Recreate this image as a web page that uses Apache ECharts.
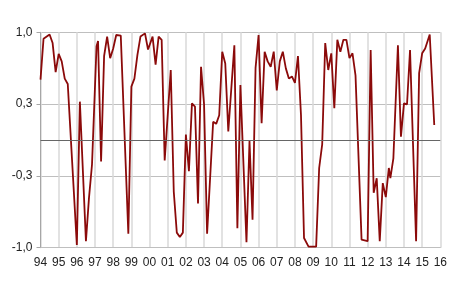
<!DOCTYPE html>
<html>
<head>
<meta charset="utf-8">
<script src="https://cdn.jsdelivr.net/npm/echarts@6/dist/echarts.min.js"></script>
<style>html,body{margin:0;padding:0;background:#fff;}#c{width:450px;height:291px;}</style>
</head>
<body>
<div id="c"></div>
<script>
// months since January 1994
const months = [0,2,6,8,10,12,14,16,18,24,26,30,32,34,37,38,40,42,44,46,48,50,53,58,60,62,64,66,69,71,74,76,78,80,82,86,88,90,92,94,96,98,100,102,104,106,108,110,114,116,118,120,122,124,128,130,132,136,138,140,142,144,146,148,150,152,154,156,158,160,162,164,166,168,170,172,174,177,182,184,186,188,190,192,194,196,198,200,202,204,206,208,212,216,218,220,222,224,226,228,230,231,233,236,238,240,242,244,248,250,252,254,257,260];
const values = [0.56,0.94,0.98,0.90,0.63,0.80,0.73,0.57,0.52,-0.975,0.356,-0.94,-0.54,-0.23,0.87,0.92,-0.20,0.78,0.96,0.76,0.85,0.975,0.97,-0.87,0.495,0.57,0.79,0.96,0.99,0.84,0.96,0.70,0.96,0.93,-0.19,0.65,-0.48,-0.86,-0.90,-0.86,0.05,-0.29,0.34,0.31,-0.59,0.68,0.33,-0.87,0.17,0.15,0.23,0.82,0.71,0.08,0.88,-0.82,0.51,-0.95,-0.01,-0.74,0.67,0.975,0.155,0.82,0.73,0.68,0.82,0.46,0.73,0.82,0.665,0.57,0.59,0.53,0.78,0.23,-0.91,-0.99,-0.99,-0.26,-0.04,0.90,0.65,0.805,0.295,0.93,0.82,0.93,0.93,0.76,0.805,0.60,-0.925,-0.94,0.835,-0.49,-0.355,-0.94,-0.40,-0.53,-0.26,-0.355,-0.17,0.88,0.03,0.34,0.33,0.835,-0.94,0.62,0.805,0.85,0.98,0.14];
const yearMin = 1994, yearMax = 2016;

const data = months.map((m, i) => [yearMin + m / 12, values[i]]);
const chart = echarts.init(document.getElementById('c'), null, {renderer: 'canvas'});
chart.setOption({
  animation: false,
  grid: {left: 40.5, right: 8.5, top: 32.3, bottom: 43.3, containLabel: false},
  xAxis: {
    type: 'value', min: yearMin, max: yearMax, interval: 1,
    axisLine: {show: true, onZero: false, lineStyle: {color: '#bfbfbf'}},
    axisTick: {show: false},
    axisLabel: {color: '#222', fontFamily: 'Liberation Sans', fontSize: 12, margin: 9,
      formatter: v => String(v % 100).padStart(2, '0')},
    splitLine: {show: true, lineStyle: {color: '#d9d9d9', width: 1.5}}
  },
  yAxis: {
    type: 'value', min: -1, max: 1, interval: 2 / 3,
    axisLine: {show: true, lineStyle: {color: '#a6a6a6'}},
    axisTick: {show: true, length: 4, lineStyle: {color: '#a6a6a6'}},
    axisLabel: {color: '#222', fontFamily: 'Liberation Sans', fontSize: 12, margin: 8,
      formatter: v => (Math.round(v * 10) / 10).toFixed(1).replace('.', ',')},
    splitLine: {show: true, lineStyle: {color: '#bfbfbf', width: 1}}
  },
  series: [{
    type: 'line', data: data, symbol: 'none',
    lineStyle: {color: '#8b0a0a', width: 1.8},
    markLine: {
      silent: true, symbol: 'none', label: {show: false},
      lineStyle: {color: '#666', width: 1, type: 'solid'},
      data: [{yAxis: 0}]
    }
  }]
});
</script>
</body>
</html>
